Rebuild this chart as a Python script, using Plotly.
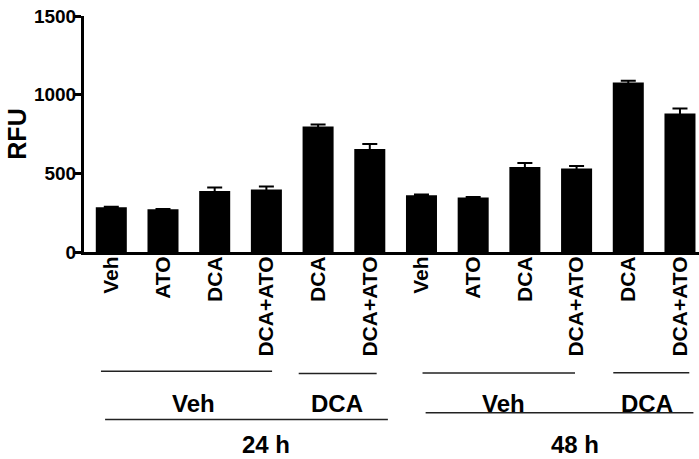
import plotly.graph_objects as go

# ---- data ----
treatments = ["Veh", "ATO", "DCA", "DCA+ATO", "DCA", "DCA+ATO",
              "Veh", "ATO", "DCA", "DCA+ATO", "DCA", "DCA+ATO"]
rfu = [284, 271, 387, 398, 797, 655, 360, 347, 540, 530, 1077, 880]
rfu_sem = [4, 3, 23, 19, 13, 32, 5, 3, 25, 17, 11, 32]

# pretreatment groups: (label, first bar index, last bar index)
pre_groups = [("Veh", 0, 3), ("DCA", 4, 5), ("Veh", 6, 9), ("DCA", 10, 11)]
# time groups: (label, first bar index, last bar index)
time_groups = [("24 h", 0, 5), ("48 h", 6, 11)]

y_ticks = [0, 500, 1000, 1500]

FONT = "Liberation Sans, Arial, sans-serif"
pos = list(range(len(rfu)))

fig = go.Figure()
fig.add_trace(go.Bar(
    x=pos, y=rfu, width=0.6,
    marker=dict(color="black", line=dict(width=0)),
    error_y=dict(type="data", array=rfu_sem, visible=True,
                 color="black", thickness=2, width=7.5),
    showlegend=False, hoverinfo="skip",
))

shapes = []
annotations = []
# bracket lines and labels (x in bar-index units, y in paper units)
pre_line = {0: (-0.2, 0.11, -0.505), 1: (-0.375, 0.133, -0.515),
            2: (0.02, -0.03, -0.513), 3: (-0.29, 0.18, -0.512)}
for i, (lab, a, b) in enumerate(pre_groups):
    l, r, yy = pre_line[i]
    shapes.append(dict(type="line", xref="x", yref="paper",
                       x0=a + l, x1=b + r, y0=yy, y1=yy,
                       line=dict(color="#222", width=1.5)))
    annotations.append(dict(text=lab, xref="x", yref="paper",
                            x=(a + b) / 2 + (0.09 if i % 2 == 0 else -0.13),
                            y=-0.64, yanchor="middle", showarrow=False, borderpad=0,
                            font=dict(family=FONT, size=24, color="black", weight="bold")))
time_line = {0: (-0.12, 0.35, -0.71), 1: (0.08, 0.26, -0.681)}
for i, (lab, a, b) in enumerate(time_groups):
    l, r, yy = time_line[i]
    shapes.append(dict(type="line", xref="x", yref="paper",
                       x0=a + l, x1=b + r, y0=yy, y1=yy,
                       line=dict(color="#222", width=1.5)))
    annotations.append(dict(text=lab, xref="x", yref="paper",
                            x=(a + b) / 2 + 0.4 * (1 if i == 0 else 0.9) + 0.1,
                            y=-0.815, yanchor="middle", showarrow=False, borderpad=0,
                            font=dict(family=FONT, size=24, color="black", weight="bold")))

fig.update_layout(
    width=699, height=459,
    margin=dict(l=84, r=0, t=16, b=207),
    paper_bgcolor="white", plot_bgcolor="white",
    font=dict(family=FONT, color="black"),
    shapes=shapes, annotations=annotations,
    bargap=0.4,
)
fig.update_xaxes(
    range=[-0.528, 11.368], tickmode="array", tickvals=pos, ticktext=treatments,
    tickangle=-90, ticks="", showgrid=False, zeroline=False, automargin=False,
    showline=True, linecolor="black", linewidth=3, ticklabelstandoff=-7,
    tickfont=dict(family=FONT, size=21, color="black", weight="bold"),
)
fig.update_yaxes(
    range=[0, 1500], tickvals=y_ticks, ticks="outside", ticklen=6, tickwidth=3,
    tickcolor="black", showgrid=False, zeroline=False, automargin=False,
    showline=True, linecolor="black", linewidth=3, ticklabelstandoff=-5,
    tickfont=dict(family=FONT, size=19, color="black", weight="bold"),
    title=dict(text="RFU", standoff=1,
               font=dict(family=FONT, size=25, color="black", weight="bold")),
)

fig.write_html("out.html", config={"displayModeBar": False},
               post_script="document.body.style.margin='0';document.body.style.overflow='hidden';")
